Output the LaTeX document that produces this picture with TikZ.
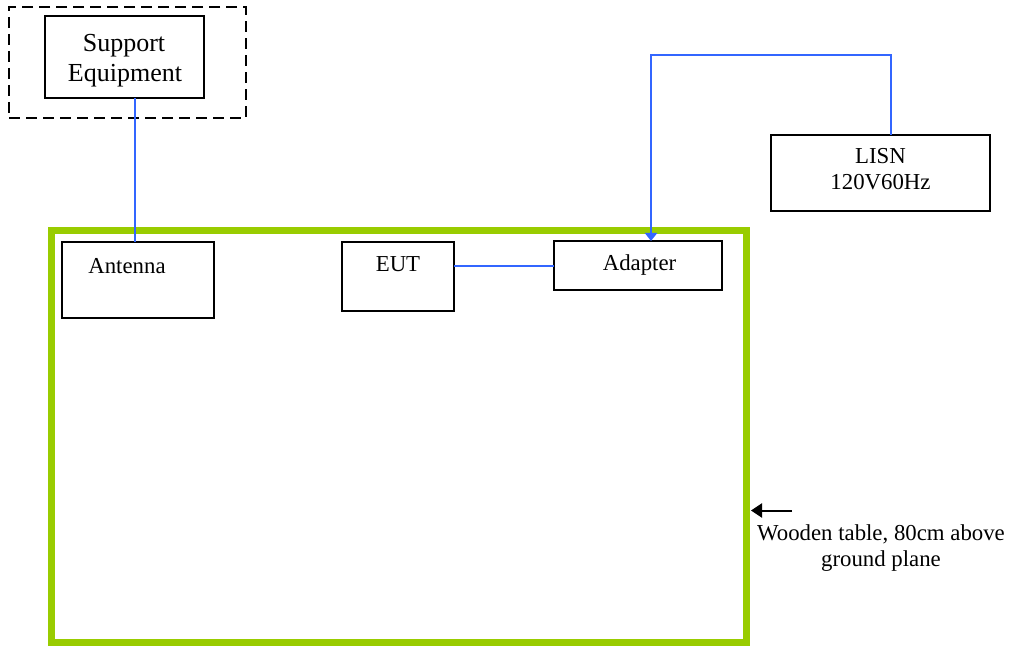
\documentclass[tikz,border=0pt]{standalone}
\usepackage{fontspec}
\setmainfont{Liberation Serif}
\usetikzlibrary{arrows.meta,calc}
\definecolor{cable}{RGB}{51,102,255}
\definecolor{tablegreen}{RGB}{153,204,0}
\begin{document}
\begin{tikzpicture}[x=1pt,y=-1pt,
  box/.style={draw=black,line width=1.8pt,inner sep=0pt,outer sep=0pt,fill=white},
  lbl/.style={inner sep=0pt,anchor=base,font=\fontsize{22.8}{26}\selectfont},
  wire/.style={draw=cable,line width=2pt}]
\useasboundingbox (0,0) rectangle (1013,647);
% table
\node[draw=tablegreen,line width=7pt,inner sep=0pt,outer sep=0pt,minimum width=695pt,minimum height=412pt] (table) at (399,436.5) {};
% dashed enclosure
\node[draw=black,line width=1.8pt,dash pattern=on 11pt off 6pt,inner sep=0pt,outer sep=0pt,minimum width=237pt,minimum height=111pt] (encl) at (127.5,62.5) {};
% boxes
\node[box,minimum width=159pt,minimum height=82pt] (sup) at (124.5,57) {};
\node[box,minimum width=152pt,minimum height=76pt] (ant) at (138,280) {};
\node[box,minimum width=112pt,minimum height=69pt] (eut) at (398,276.5) {};
\node[box,minimum width=168pt,minimum height=49pt] (adp) at (638,265.5) {};
\node[box,minimum width=219pt,minimum height=76pt] (lisn) at (880.5,173) {};
% texts
\node[lbl,font=\fontsize{26}{30}\selectfont] (tsup1) at (124,52) {Support};
\node[lbl,font=\fontsize{26}{30}\selectfont] (tsup2) at (125,82) {Equipment};
\node[lbl] (tant) at (127,274) {Antenna};
\node[lbl] (teut) at (398,272) {EUT};
\node[lbl] (tadp) at (639.5,271) {Adapter};
\node[lbl] (tlisn1) at (880.5,164) {LISN};
\node[lbl] (tlisn2) at (880.5,190) {120V60Hz};
\node[lbl] (twood1) at (881,540) {Wooden table, 80cm above};
\node[lbl] (twood2) at (881,566) {ground plane};
% connectors
\draw[wire] (sup.south -| 135,0) -- (ant.north -| 135,0);
\coordinate (ew) at (0,266);
\draw[wire] (ew -| adp.west) -- (ew -| eut.east);
\coordinate (bend) at (651,55);
\draw[wire,-{Triangle[length=8pt,width=12pt]}] (lisn.north -| 891,0) |- (bend) -- (bend |- adp.north);
\coordinate (wt) at (792,510.5);
\draw[line width=2pt,-{Triangle[length=11pt,width=14pt]}] (wt) -- (wt -| 751,0);
\end{tikzpicture}
\end{document}
